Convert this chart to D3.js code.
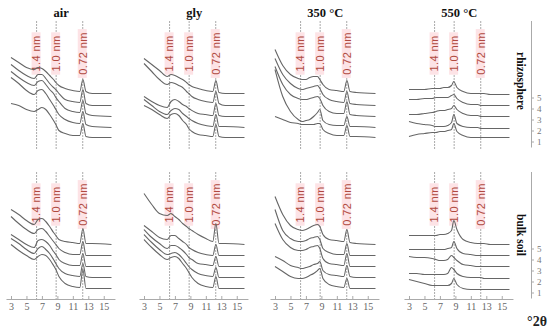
<!DOCTYPE html>
<html>
<head>
<meta charset="utf-8">
<script src="https://cdn.jsdelivr.net/npm/d3@7"></script>
<style>
  body { margin: 0; background: #fff; }
  svg { display: block; }
</style>
</head>
<body>
<div id="chart"></div>
<script>
// 2θ grid the curves were read at
const twoTheta = [3, 4, 5, 6, 6.5, 7, 7.5, 8, 8.5, 8.8, 9.2, 10, 11, 11.9, 12.3, 12.7, 13.5, 16];

// intensities above each sample's offset (a.u.), samples 1..5
const airRhizo = [
  [38, 36, 32, 30, 32, 34, 32, 27, 21, 17, 11, 8, 6, 6, 18, 5, 4, 4],
  [53, 47, 40, 36, 40, 41, 37, 31, 25, 21, 16, 11, 8, 7, 19, 6, 4, 3],
  [48, 42, 37, 34, 38, 39, 35, 30, 26, 22, 18, 11, 8, 7, 19, 6, 4, 3],
  [44, 38, 33, 30, 34, 34, 30, 25, 21, 19, 15, 9, 7, 6, 19, 5, 3, 3],
  [40, 35, 30, 28, 30, 29, 26, 22, 18, 15, 12, 9, 7, 6, 18, 6, 4, 4]
];
const glyRhizo = [
  [36, 32, 27, 23, 27, 28, 26, 21, 17, 13, 10, 7, 6, 5, 17, 5, 4, 4],
  [31, 25, 19, 16, 20, 22, 21, 17, 14, 12, 10, 7, 5, 4, 16, 4, 4, 3],
  [23, 18, 14, 12, 18, 20, 18, 15, 13, 11, 9, 6, 5, 4, 16, 4, 3, 3],
  [45, 37, 29, 24, 26, 25, 23, 21, 17, 15, 12, 9, 7, 6, 17, 5, 3, 3],
  [39, 33, 27, 21, 23, 22, 20, 18, 15, 13, 11, 9, 7, 6, 17, 5, 4, 4]
];
const t350Rhizo = [
  [25, 22, 19, 18, 17, 17, 17, 17, 18, 18, 12, 8, 6, 6, 16, 5, 5, 4],
  [61, 34, 19, 11, 9, 10, 11, 14, 18, 21, 10, 6, 5, 5, 14, 4, 4, 3],
  [53, 35, 25, 21, 20, 20, 21, 22, 23, 21, 14, 8, 6, 6, 18, 5, 4, 3],
  [50, 34, 25, 20, 19, 20, 21, 22, 23, 20, 14, 9, 7, 6, 17, 5, 4, 3],
  [48, 32, 23, 19, 18, 18, 20, 21, 21, 18, 13, 8, 7, 6, 17, 6, 5, 4]
];
const t550Rhizo = [
  [5, 7, 8, 9, 9, 10, 10, 11, 12, 18, 10, 6, 4, 4, 4, 4, 4, 4],
  [9, 7, 6, 5, 4, 4, 4, 5, 8, 16, 7, 4, 3, 3, 2, 2, 2, 2],
  [5, 5, 6, 7, 8, 9, 9, 10, 11, 14, 10, 6, 4, 4, 3, 3, 3, 3],
  [9, 9, 10, 10, 11, 11, 11, 11, 13, 14, 10, 6, 4, 4, 3, 3, 3, 3],
  [8, 8, 8, 9, 9, 9, 10, 10, 12, 16, 10, 6, 4, 4, 4, 4, 3, 3]
];
const airBulk = [
  [48, 42, 37, 33, 36, 38, 37, 33, 27, 23, 16, 9, 6, 5, 23, 4, 4, 4],
  [43, 38, 32, 28, 33, 35, 32, 28, 22, 18, 13, 8, 6, 5, 18, 5, 4, 4],
  [36, 31, 26, 23, 30, 31, 29, 25, 19, 16, 11, 7, 5, 5, 17, 4, 4, 4],
  [43, 36, 30, 26, 30, 31, 28, 23, 18, 15, 11, 7, 5, 5, 18, 4, 4, 4],
  [39, 34, 28, 24, 29, 30, 27, 22, 16, 13, 9, 7, 6, 5, 20, 5, 5, 4]
];
const glyBulk = [
  [53, 45, 38, 33, 35, 36, 34, 29, 24, 20, 15, 9, 6, 5, 16, 4, 4, 4],
  [47, 39, 32, 27, 28, 29, 27, 23, 18, 15, 12, 8, 6, 5, 14, 4, 4, 4],
  [41, 33, 27, 22, 25, 25, 23, 20, 16, 13, 11, 7, 6, 5, 14, 4, 4, 4],
  [34, 28, 22, 20, 24, 24, 21, 18, 15, 12, 10, 7, 5, 4, 15, 4, 4, 4],
  [55, 44, 35, 33, 35, 32, 29, 25, 22, 20, 18, 14, 10, 7, 25, 5, 5, 4]
];
const t350Bulk = [
  [26, 21, 16, 14, 14, 15, 17, 19, 22, 24, 14, 8, 6, 5, 14, 4, 4, 4],
  [25, 21, 16, 14, 13, 14, 15, 17, 18, 20, 11, 7, 6, 5, 16, 5, 4, 4],
  [47, 31, 23, 20, 20, 21, 23, 24, 25, 22, 12, 7, 6, 5, 17, 4, 4, 4],
  [50, 29, 21, 18, 18, 19, 21, 22, 23, 20, 11, 7, 5, 5, 16, 4, 4, 4],
  [52, 34, 23, 19, 18, 19, 21, 23, 24, 22, 14, 9, 8, 7, 19, 6, 5, 4]
];
const t550Bulk = [
  [13, 11, 9, 7, 7, 7, 7, 7, 9, 14, 8, 4, 3, 3, 3, 3, 3, 3],
  [8, 8, 7, 7, 7, 7, 7, 8, 14, 12, 8, 5, 4, 4, 4, 3, 3, 3],
  [14, 13, 13, 12, 11, 10, 10, 11, 15, 13, 10, 6, 5, 4, 4, 4, 4, 4],
  [10, 10, 10, 10, 10, 10, 10, 11, 12, 18, 11, 6, 5, 4, 4, 4, 4, 4],
  [13, 13, 13, 13, 13, 14, 14, 15, 18, 28, 19, 9, 6, 5, 5, 5, 4, 4]
];

const treatments = ["air", "gly", "350 °C", "550 °C"];
const fractions = ["rhizosphere", "bulk soil"];
const samples = [1, 2, 3, 4, 5];
const xTicks = [3, 5, 7, 9, 11, 13, 15];
// reference reflections
const peakLabels = ["1.4 nm", "1.0 nm", "0.72 nm"];
const peakTheta = [6.31, 8.84, 12.28];

const grid = [
  [airRhizo, glyRhizo, t350Rhizo, t550Rhizo],
  [airBulk, glyBulk, t350Bulk, t550Bulk]
];

const width = 550, height = 331;
const colX = [11, 144, 275, 409];   // pixel of 2θ = 3 in each column
const degPx = 7.73;
const rowTick1 = [141.5, 292.5];    // pixel of sample 1 in each row
const unitPx = 11;                  // one sample step in px (= 11 a.u.)
const serif = "'Liberation Serif', 'DejaVu Serif', serif";

let svg = d3.select("#chart").append("svg")
    .attr("width", width)
    .attr("height", height);

let line = d3.line().curve(d3.curveMonotoneX);

grid.forEach(function (rowData, r) {
    let y = d3.scaleLinear()
        .domain([0.5, 12])
        .range([rowTick1[r] + unitPx * 0.5, rowTick1[r] - unitPx * 11]);

    rowData.forEach(function (panel, c) {
        let x = d3.scaleLinear()
            .domain([3, 15])
            .range([colX[c], colX[c] + 12 * degPx]);
        let g = svg.append("g");

        // dotted reference lines
        g.selectAll("line.ref").data(peakTheta).enter()
            .append("line")
            .attr("x1", d => x(d)).attr("x2", d => x(d))
            .attr("y1", y(12) + 1).attr("y2", y(0.5) + (r == 0 ? 3 : 1))
            .attr("stroke", "#555")
            .attr("stroke-width", 1)
            .attr("stroke-dasharray", "1,2");

        // labels on the lines
        let labs = g.selectAll("g.lab").data(peakLabels).enter()
            .append("g")
            .attr("transform", (d, i) => `translate(${x(peakTheta[i])},${y(9.0)}) rotate(-90)`);
        labs.append("rect")
            .attr("x", d => -d.length * 3.2 - 2)
            .attr("y", -5)
            .attr("width", d => d.length * 6.4 + 4)
            .attr("height", 9)
            .attr("fill", "#fde3e6");
        labs.append("text")
            .attr("text-anchor", "middle")
            .attr("dy", "0.35em")
            .attr("font-family", "'Liberation Sans', Arial, sans-serif")
            .attr("font-size", 11)
            .attr("letter-spacing", 0.4)
            .attr("fill", "#b04a40")
            .text(d => d);

        // diffractograms
        g.selectAll("path.curve").data(panel).enter()
            .append("path")
            .attr("fill", "none")
            .attr("stroke", "#666")
            .attr("stroke-width", 1.1)
            .attr("d", (vals, k) => line(vals.map((v, j) => [x(twoTheta[j]), y(samples[k] + v / unitPx)])));

        // column titles
        if (r == 0) {
            svg.append("text")
                .attr("x", x(9.5))
                .attr("y", 17)
                .attr("text-anchor", "middle")
                .attr("font-family", serif)
                .attr("font-weight", "bold")
                .attr("font-size", 12.5)
                .attr("fill", "#111")
                .text(treatments[c]);
        }

        // x axes on the bottom row
        if (r == 1) {
            let xa = d3.scaleLinear().domain([2.35, 16.45]).range([x(2.35), x(16.45)]);
            let ax = svg.append("g")
                .attr("transform", `translate(0,${y(0.5) + 1})`)
                .call(d3.axisBottom(xa).tickValues(xTicks).tickSize(-3).tickSizeOuter(0).tickPadding(4));
            ax.select(".domain").attr("stroke", "#aaa");
            ax.selectAll(".tick line").attr("stroke", "#aaa");
            ax.selectAll("text")
                .attr("font-family", serif)
                .attr("font-size", 10)
                .attr("fill", "#666");
        }
    });

    // sample axis on the right
    let ay = svg.append("g")
        .attr("transform", "translate(531,0)")
        .call(d3.axisRight(y).tickValues(samples).tickSize(3).tickSizeOuter(0).tickPadding(3));
    ay.select(".domain").attr("stroke", "#aaa");
    ay.selectAll(".tick line").attr("stroke", "#aaa");
    ay.selectAll("text")
        .attr("font-family", serif)
        .attr("font-size", 9)
        .attr("fill", "#777");

    svg.append("text")
        .attr("transform", `translate(517,${r == 0 ? 81 : 235}) rotate(90)`)
        .attr("text-anchor", "middle")
        .attr("font-family", serif)
        .attr("font-weight", "bold")
        .attr("font-size", 11.5)
        .attr("fill", "#111")
        .text(fractions[r]);
});

svg.append("text")
    .attr("x", 537)
    .attr("y", 326)
    .attr("text-anchor", "middle")
    .attr("font-family", serif)
    .attr("font-weight", "bold")
    .attr("font-size", 14)
    .attr("fill", "#222")
    .text("°2θ");
</script>
</body>
</html>
